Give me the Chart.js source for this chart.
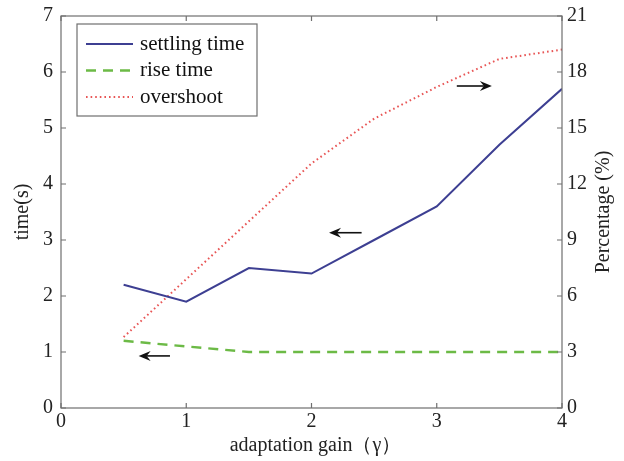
<!DOCTYPE html>
<html>
<head>
<meta charset="utf-8">
<script src="https://cdn.jsdelivr.net/npm/chart.js@4.4.1/dist/chart.umd.min.js"></script>
<style>
  html, body { margin: 0; padding: 0; background: #fff; }
  #wrap { width: 624px; height: 461px; }
</style>
</head>
<body>
<div id="wrap"><canvas id="chart" width="624" height="461"></canvas></div>
<script>
// adaptation gain values
const gains = [0.5, 1, 1.5, 2, 2.5, 3, 3.5, 4];
const settlingTime = [2.2, 1.9, 2.5, 2.4, 3.0, 3.6, 4.7, 5.7];
const riseTime = [1.2, 1.1, 1.0, 1.0, 1.0, 1.0, 1.0, 1.0];
const overshoot = [3.8, 6.9, 10.0, 13.1, 15.5, 17.2, 18.7, 19.2];

const xTickValues = [0, 1, 2, 3, 4];
const leftTickValues = [0, 1, 2, 3, 4, 5, 6, 7];
const rightTickValues = [0, 3, 6, 9, 12, 15, 18, 21];

const xTitle = "adaptation gain（γ）";
const leftTitle = "time(s)";
const rightTitle = "Percentage (%)";

// arrows: [xFrom, xTo, y, axis]
const arrows = [
  [0.87, 0.62, 0.93, "y"],
  [2.4, 2.14, 3.13, "y"],
  [3.16, 3.44, 5.75, "y"]
];

const serif = "'Liberation Serif', 'Times New Roman', serif";
const frameColor = "#6f6f6f";

const toPoints = (xs, ys) => xs.map((x, i) => ({ x, y: ys[i] }));

// box, inward ticks, titles, arrows and legend
const decorPlugin = {
  id: "decor",
  afterDraw(chart) {
    const ctx = chart.ctx;
    const a = chart.chartArea;
    const sx = chart.scales.x, sy = chart.scales.y, sy2 = chart.scales.y2;
    ctx.save();
    ctx.strokeStyle = frameColor;
    ctx.lineWidth = 1.2;
    ctx.strokeRect(a.left, a.top, a.right - a.left, a.bottom - a.top);
    const tl = 5;
    ctx.beginPath();
    xTickValues.forEach(v => {
      const px = sx.getPixelForValue(v);
      ctx.moveTo(px, a.bottom); ctx.lineTo(px, a.bottom - tl);
      ctx.moveTo(px, a.top); ctx.lineTo(px, a.top + tl);
    });
    leftTickValues.forEach(v => {
      const py = sy.getPixelForValue(v);
      ctx.moveTo(a.left, py); ctx.lineTo(a.left + tl, py);
    });
    rightTickValues.forEach(v => {
      const py = sy2.getPixelForValue(v);
      ctx.moveTo(a.right, py); ctx.lineTo(a.right - tl, py);
    });
    ctx.stroke();

    // axis titles
    const midY = (a.top + a.bottom) / 2;
    ctx.fillStyle = "#222";
    ctx.font = "20px " + serif;
    ctx.textAlign = "center";
    ctx.textBaseline = "middle";
    ctx.fillText(xTitle, (a.left + a.right) / 2 + 4, 446);
    [[23, leftTitle], [604, rightTitle]].forEach(([tx, t]) => {
      ctx.save();
      ctx.translate(tx, midY);
      ctx.rotate(-Math.PI / 2);
      ctx.fillText(t, 0, 0);
      ctx.restore();
    });

    // arrows
    ctx.strokeStyle = "#111";
    ctx.fillStyle = "#111";
    ctx.lineWidth = 1.6;
    arrows.forEach(([x0, x1, y, ax]) => {
      const p0 = sx.getPixelForValue(x0), p1 = sx.getPixelForValue(x1);
      const py = chart.scales[ax].getPixelForValue(y);
      const dir = Math.sign(p1 - p0);
      ctx.beginPath();
      ctx.moveTo(p0, py); ctx.lineTo(p1 - dir * 8, py);
      ctx.stroke();
      ctx.beginPath();
      ctx.moveTo(p1, py);
      ctx.lineTo(p1 - dir * 12, py - 5);
      ctx.lineTo(p1 - dir * 8, py);
      ctx.lineTo(p1 - dir * 12, py + 5);
      ctx.closePath();
      ctx.fill();
    });

    // legend box
    const bx = a.left + 16, by = a.top + 8, bw = 180, bh = 92;
    ctx.fillStyle = "#fff";
    ctx.fillRect(bx, by, bw, bh);
    ctx.strokeStyle = frameColor;
    ctx.lineWidth = 1.2;
    ctx.strokeRect(bx, by, bw, bh);
    ctx.font = "21px " + serif;
    ctx.textAlign = "left";
    ctx.textBaseline = "middle";
    chart.data.datasets.forEach((ds, i) => {
      const ry = by + 20 + i * 26.5;
      ctx.strokeStyle = ds.borderColor;
      ctx.lineWidth = ds.borderWidth;
      ctx.setLineDash(ds.borderDash || []);
      ctx.beginPath();
      ctx.moveTo(bx + 9, ry); ctx.lineTo(bx + 56, ry);
      ctx.stroke();
      ctx.setLineDash([]);
      ctx.fillStyle = "#111";
      ctx.fillText(ds.label, bx + 63, ry);
    });
    ctx.restore();
  }
};

const fitY = w => s => { s.width = w; s.paddingTop = 0; s.paddingBottom = 0; };

new Chart(document.getElementById("chart"), {
  type: "line",
  data: {
    datasets: [
      {
        label: "settling time",
        data: toPoints(gains, settlingTime),
        borderColor: "#3d3f92",
        borderWidth: 2,
        pointRadius: 0,
        yAxisID: "y"
      },
      {
        label: "rise time",
        data: toPoints(gains, riseTime),
        borderColor: "#6cba46",
        borderWidth: 2.4,
        borderDash: [10, 7],
        pointRadius: 0,
        yAxisID: "y"
      },
      {
        label: "overshoot",
        data: toPoints(gains, overshoot),
        borderColor: "#e85555",
        borderWidth: 2,
        borderDash: [1.6, 3],
        pointRadius: 0,
        yAxisID: "y2"
      }
    ]
  },
  options: {
    responsive: false,
    animation: false,
    layout: { padding: { top: 16, left: 0, right: 0, bottom: 0 } },
    plugins: { legend: { display: false }, tooltip: { enabled: false } },
    scales: {
      x: {
        type: "linear",
        min: 0, max: 4,
        afterFit: s => { s.height = 53; s.paddingLeft = 0; s.paddingRight = 0; },
        afterBuildTicks: s => { s.ticks = xTickValues.map(v => ({ value: v })); },
        grid: { display: false, drawTicks: false },
        border: { display: false },
        ticks: { color: "#222", font: { family: serif, size: 20 }, padding: 2 }
      },
      y: {
        position: "left",
        min: 0, max: 7,
        afterFit: fitY(61),
        afterBuildTicks: s => { s.ticks = leftTickValues.map(v => ({ value: v })); },
        grid: { display: false, drawTicks: false },
        border: { display: false },
        ticks: { color: "#222", font: { family: serif, size: 20 }, padding: 8 }
      },
      y2: {
        position: "right",
        min: 0, max: 21,
        afterFit: fitY(62),
        afterBuildTicks: s => { s.ticks = rightTickValues.map(v => ({ value: v })); },
        grid: { display: false, drawTicks: false },
        border: { display: false },
        ticks: { color: "#222", font: { family: serif, size: 20 }, padding: 5 }
      }
    }
  },
  plugins: [decorPlugin]
});
</script>
</body>
</html>
